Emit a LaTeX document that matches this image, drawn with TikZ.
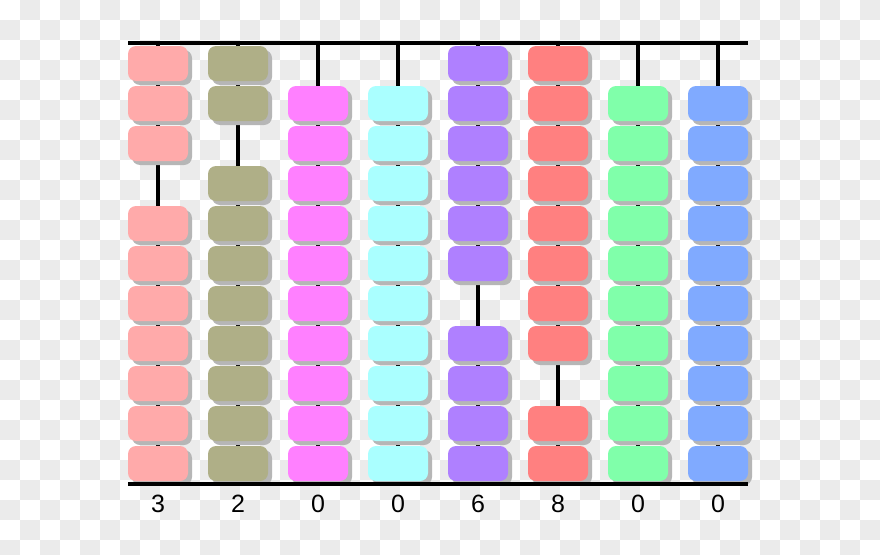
\documentclass[tikz,border=0pt]{standalone}
\usepackage{fontspec}
\setmainfont{Liberation Sans}
\definecolor{chk}{HTML}{EBEBEB}
\definecolor{shd}{HTML}{B6B6B6}
\definecolor{cA}{HTML}{FFAAAA}
\definecolor{cB}{HTML}{AFAF87}
\definecolor{cC}{HTML}{FF80FF}
\definecolor{cD}{HTML}{AAFFFF}
\definecolor{cE}{HTML}{AF80FF}
\definecolor{cF}{HTML}{FF8080}
\definecolor{cG}{HTML}{80FFAA}
\definecolor{cH}{HTML}{80AAFF}
\tikzset{
  bar/.style={line width=4pt, black},
  rod/.style={line width=4pt, black},
  bead/.style={rounded corners=8pt, draw=none},
  beadshadow/.style={rounded corners=8pt, fill=shd, draw=none},
  digit/.style={font=\fontsize{25}{25}\selectfont, text=black, inner sep=0pt}
}
\begin{document}
\begin{tikzpicture}[x=1pt,y=-1pt]
\useasboundingbox (0,0) rectangle (880,554);
\fill[white] (0,0) rectangle (880,554);
\begin{scope}
\clip (0,0) rectangle (880,554);
\foreach \i in {0,...,43}{
  \foreach \j in {0,...,27}{
    \pgfmathtruncatemacro\chkodd{mod(\i+\j,2)}
    \ifnum\chkodd=1 \fill[chk] (\i*20,\j*20) rectangle ++(20,20);\fi
  }
}
\end{scope}
% frame coordinates
\coordinate (tl) at (128,43);
\coordinate (tr) at (748,43);
\coordinate (bl) at (128,484);
\coordinate (br) at (748,484);
% columns: index / colour / digit
\foreach \c/\col/\d in {0/cA/3,1/cB/2,2/cC/0,3/cD/0,4/cE/6,5/cF/8,6/cG/0,7/cH/0}{
  \pgfmathsetmacro\xc{158+80*\c}
  \coordinate (rt\c) at (\xc,43);
  \coordinate (rb\c) at (\xc,484);
  \draw[rod] (rt\c) -- (rb\c);
  \foreach \k in {0,...,10}{
    \ifnum\k=\d\relax\else
      \pgfmathsetmacro\yt{46+40*\k}
      \fill[beadshadow] (\xc-30+4,\yt+4) rectangle ++(60,35);
      \fill[bead, fill=\col] (\xc-30,\yt) rectangle ++(60,35);
    \fi
  }
  \node[digit] (n\c) at (\xc,503.5) {\d};
}
\draw[bar] (tl) -- (tr);
\draw[bar] (bl) -- (br);
\end{tikzpicture}
\end{document}
